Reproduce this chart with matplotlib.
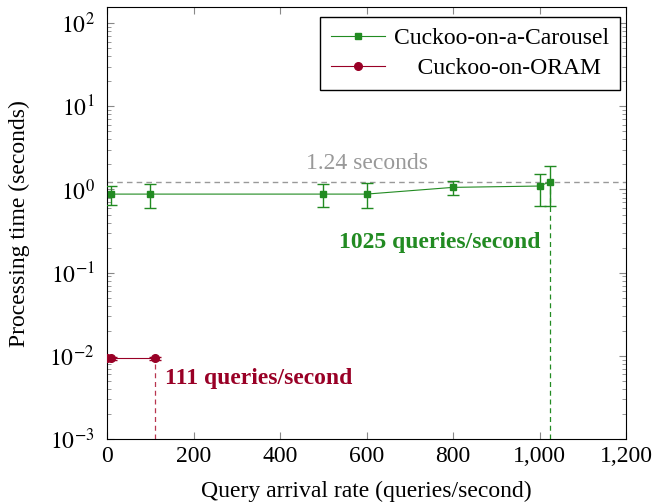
import numpy as np
import matplotlib.pyplot as plt
from matplotlib.lines import Line2D
from matplotlib.ticker import LogLocator, FuncFormatter

plt.rcParams['font.family'] = ['Liberation Serif', 'DejaVu Serif']
plt.rcParams['mathtext.fontset'] = 'stix'

# Cuckoo-on-a-Carousel
car_rate = [10, 100, 500, 600, 800, 1000, 1025]
car_time = [0.88, 0.88, 0.88, 0.88, 1.06, 1.10, 1.24]
car_lo = [0.65, 0.60, 0.61, 0.60, 0.86, 0.64, 0.64]
car_hi = [1.11, 1.15, 1.17, 1.18, 1.25, 1.54, 1.89]

# Cuckoo-on-ORAM
oram_rate = [1, 10, 111]
oram_time = [0.0093, 0.0093, 0.0093]
oram_lo = [0.0088, 0.0088, 0.0088]
oram_hi = [0.0098, 0.0098, 0.0098]

green = '#228b22'
red = '#990026'
fs = 17

fig = plt.figure(figsize=(6.55, 5.03), dpi=100)
ax = fig.add_axes([107 / 655, 1 - 439 / 503, 519 / 655, (439 - 7.3) / 503])

ax.errorbar(car_rate, car_time,
            yerr=[np.array(car_time) - car_lo, np.array(car_hi) - car_time],
            color=green, marker='s', ms=4.5, lw=0.8, elinewidth=1.0, capsize=4,
            ecolor=green, zorder=3)
ax.errorbar(oram_rate, oram_time,
            yerr=[np.array(oram_time) - oram_lo, np.array(oram_hi) - oram_time],
            color=red, marker='o', ms=5.5, lw=0.8, elinewidth=1.0, capsize=4,
            ecolor=red, zorder=3)

ax.axhline(1.24, color='#999999', ls=(0, (4, 3)), lw=1.0, zorder=1)
ax.text(600, 2.07, '1.24 seconds', color='#999999', ha='center', va='center', fontsize=fs)

ax.vlines(1025, 1e-3, 1.24, color=green, ls=(0, (4, 3)), lw=0.9, zorder=2)
ax.vlines(111, 1e-3, 0.0093, color='#b8354f', ls=(0, (4, 3)), lw=0.9, zorder=2)
ax.text(1003, 0.23, '1025 queries/second', color=green, fontweight='bold',
        ha='right', va='center', fontsize=fs)
ax.text(133, 0.0054, '111 queries/second', color=red, fontweight='bold',
        ha='left', va='center', fontsize=fs)

ax.set_yscale('log')
ax.set_xlim(0, 1200)
ax.set_ylim(1e-3, 155)
ax.set_xticks(range(0, 1201, 200))
ax.xaxis.set_major_formatter(FuncFormatter(lambda v, p: f'{int(v):,}'))
ax.yaxis.set_major_locator(LogLocator(base=10, numticks=10))
ax.yaxis.set_minor_locator(LogLocator(base=10, subs=np.arange(2, 10), numticks=10))
ax.yaxis.set_major_formatter(FuncFormatter(lambda v, p: r'$10^{%d}$' % round(np.log10(v))))

ax.tick_params(which='both', direction='in', top=True, right=True, color='#888888',
               labelsize=fs)
ax.tick_params(which='major', length=5)
ax.tick_params(which='minor', length=3)
ax.tick_params(axis='x', pad=5)
ax.tick_params(axis='y', pad=9)

ax.set_xlabel('Query arrival rate (queries/second)', fontsize=fs, labelpad=10)
ax.set_ylabel('Processing time (seconds)', fontsize=fs, labelpad=14)

handles = [Line2D([], [], color=green, marker='s', ms=4.5, lw=0.8),
           Line2D([], [], color=red, marker='o', ms=5.5, lw=0.8)]
leg = ax.legend(handles, ['Cuckoo-on-a-Carousel', '    Cuckoo-on-ORAM'],
                loc='upper right', bbox_to_anchor=(620 / 655, 1 - 17 / 503),
                bbox_transform=fig.transFigure, borderaxespad=0,
                fontsize=fs, fancybox=False, edgecolor='black', framealpha=1,
                handlelength=2.3, borderpad=0.45, labelspacing=0.35, handletextpad=0.4)
leg.get_frame().set_linewidth(1.0)

fig.savefig('out.png', dpi=100)
